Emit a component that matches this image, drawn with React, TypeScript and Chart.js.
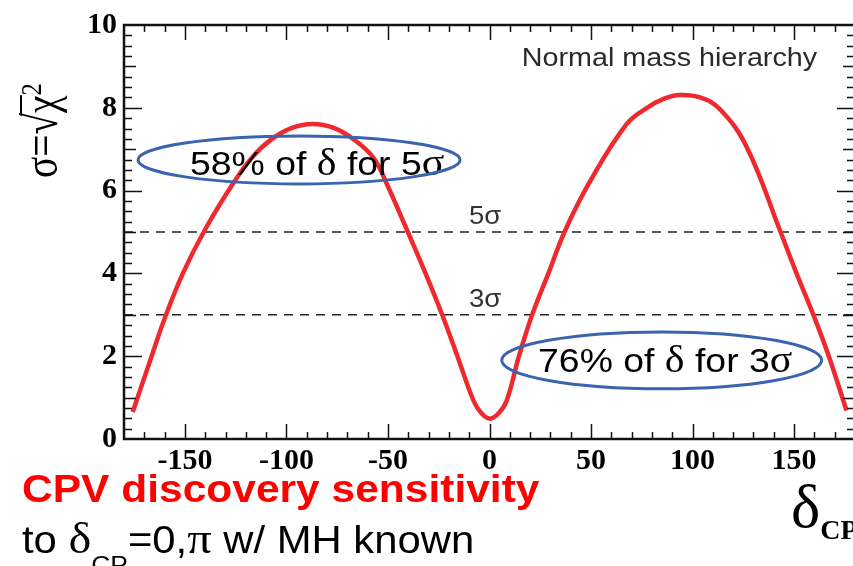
import React, { useEffect, useRef } from "react";
import { Chart, registerables } from "chart.js";

Chart.register(...registerables);

// ---- data ----
const deltaCP = [
  -175.7, -166.4, -159.3, -151.0, -140.4, -126.7, -117.1, -107.6, -97.0, -87.1, -77.0, -66.7, -57.1, -50.4,
  -40.5, -31.5, -23.3, -15.8, -7.9, -4.0, 0.3, 4.5, 8.5, 14.5, 21.0, 29.0,
  37.2, 49.5, 67.6, 77.6, 86.0, 93.7, 103.7, 113.4, 126.6, 143.1, 151.2,
  159.5, 167.1, 175.8,
];
const sigma = [
  0.65, 2.0, 3.0, 4.0, 5.03, 6.14, 6.79, 7.23, 7.52, 7.61, 7.52, 7.23, 6.79, 6.14,
  5.03, 4.0, 3.0, 2.0, 0.93, 0.62, 0.49, 0.62, 0.93, 2.0, 3.0, 4.0,
  5.03, 6.22, 7.61, 8.0, 8.22, 8.31, 8.25, 7.97, 7.06, 5.03, 4.0,
  3.0, 2.0, 0.69,
];
const xTickValues = [-150, -100, -50, 0, 50, 100, 150];
const yTickValues = [0, 2, 4, 6, 8, 10];
const sigmaLevels = [5, 3];
const sigmaLevelLabels = ["5σ", "3σ"];

const X_MIN = -180;
const X_MAX = 180;
const Y_MIN = 0;
const Y_MAX = 10;

// annotations (data coordinates)
const ellipses = [
  { cx: -93.8, cy: 6.74, rx: 79.3, ry: 0.578, text: ["58% of ", "δ", " for 5", "σ"], tx: -147.5, ty: 6.38 },
  { cx: 84.8, cy: 1.9, rx: 78.8, ry: 0.687, text: ["76% of ", "δ", " for 3", "σ"], tx: 23.9, ty: 1.61 },
];

const SANS = '"Liberation Sans", Arial, sans-serif';
const SERIF = '"Liberation Serif", "Times New Roman", serif';

function drawRuns(ctx: CanvasRenderingContext2D, runs: [string, string][], x: number, y: number, sx: number, color: string) {
  ctx.save();
  ctx.translate(x, y);
  ctx.scale(sx, 1);
  ctx.fillStyle = color;
  ctx.textBaseline = "alphabetic";
  ctx.textAlign = "left";
  let cx = 0;
  for (const [t, f] of runs) {
    ctx.font = f;
    ctx.fillText(t, cx, 0);
    cx += ctx.measureText(t).width;
  }
  ctx.restore();
}

const framePlugin = {
  id: "rootFrame",
  afterDatasetsDraw(chart: any) {
    const { ctx, chartArea: a, scales } = chart;
    const xs = scales.x;
    const ys = scales.y;
    ctx.save();
    ctx.strokeStyle = "#111";
    ctx.lineWidth = 1.5;
    ctx.beginPath();
    for (let v = -170; v <= 170; v += 10) {
      const px = Math.round(xs.getPixelForValue(v)) + 0.5;
      const len = v % 50 === 0 ? 15 : 7;
      ctx.moveTo(px, a.bottom);
      ctx.lineTo(px, a.bottom - len);
      ctx.moveTo(px, a.top);
      ctx.lineTo(px, a.top + len);
    }
    for (let k = 1; k < 40; k++) {
      const v = k * 0.25;
      const py = Math.round(ys.getPixelForValue(v)) + 0.5;
      const len = v % 2 === 0 ? 18 : v % 1 === 0 ? 12 : 8;
      ctx.moveTo(a.left, py);
      ctx.lineTo(a.left + len, py);
      ctx.moveTo(a.right, py);
      ctx.lineTo(a.right - len, py);
    }
    ctx.stroke();
    ctx.lineWidth = 2.5;
    ctx.strokeRect(a.left, a.top, a.right - a.left, a.bottom - a.top);
    ctx.restore();
  },
};

const annotationPlugin = {
  id: "annotations",
  afterDraw(chart: any) {
    const { ctx, scales } = chart;
    const xs = scales.x;
    const ys = scales.y;
    sigmaLevels.forEach((lv, i) => {
      const px = xs.getPixelForValue(-10.1);
      const py = ys.getPixelForValue(lv + 0.19);
      drawRuns(ctx, [[sigmaLevelLabels[i], `26px ${SANS}`]], px, py, 1.06, "#333");
    });
    drawRuns(ctx, [["Normal mass hierarchy", `26px ${SANS}`]], xs.getPixelForValue(15.9), ys.getPixelForValue(9.0), 1.105, "#2a2a2a");
    for (const e of ellipses) {
      const cx = xs.getPixelForValue(e.cx);
      const cy = ys.getPixelForValue(e.cy);
      const rx = Math.abs(xs.getPixelForValue(e.cx + e.rx) - cx);
      const ry = Math.abs(ys.getPixelForValue(e.cy + e.ry) - cy);
      const runs: [string, string][] = [
        [e.text[0], `34px ${SANS}`],
        [e.text[1], `38px ${SERIF}`],
        [e.text[2], `34px ${SANS}`],
        [e.text[3], `38px ${SERIF}`],
      ];
      drawRuns(ctx, runs, xs.getPixelForValue(e.tx), ys.getPixelForValue(e.ty), 1.1, "#000");
      ctx.save();
      ctx.strokeStyle = "#3a63b0";
      ctx.lineWidth = 3;
      ctx.beginPath();
      ctx.ellipse(cx, cy, rx, ry, 0, 0, Math.PI * 2);
      ctx.stroke();
      ctx.restore();
    }
  },
};

export default function App() {
  const canvasRef = useRef<HTMLCanvasElement | null>(null);

  useEffect(() => {
    const canvas = canvasRef.current;
    if (!canvas) return;
    const curve = deltaCP.map((d, i) => ({ x: d, y: sigma[i] }));
    const levelSets = sigmaLevels.map((lv) => ({
      data: [
        { x: X_MIN, y: lv },
        { x: X_MAX, y: lv },
      ],
      borderColor: "#222",
      borderWidth: 1.5,
      borderDash: [9, 7],
      pointRadius: 0,
      fill: false,
      tension: 0,
    }));
    const chart = new Chart(canvas, {
      type: "line",
      data: {
        datasets: [
          {
            data: curve,
            borderColor: "#ee2a2e",
            borderWidth: 4.5,
            pointRadius: 0,
            fill: false,
            tension: 0.4,
            borderCapStyle: "butt",
          } as any,
          ...levelSets,
        ],
      },
      options: {
        responsive: false,
        animation: false,
        layout: { padding: { left: 0, right: 25, top: 20, bottom: 0 } },
        plugins: { legend: { display: false }, tooltip: { enabled: false } },
        scales: {
          x: {
            type: "linear",
            min: X_MIN,
            max: X_MAX,
            afterBuildTicks: (s: any) => {
              s.ticks = xTickValues.map((v) => ({ value: v }));
            },
            afterFit: (s: any) => {
              s.height = 127;
            },
            grid: { display: false, drawTicks: false },
            border: { display: false },
            ticks: {
              color: "#000",
              padding: 4,
              maxRotation: 0,
              autoSkip: false,
              font: { family: SERIF, weight: "bold", size: 30 },
              callback: (v: any) => String(v),
            },
          },
          y: {
            type: "linear",
            min: Y_MIN,
            max: Y_MAX,
            afterBuildTicks: (s: any) => {
              s.ticks = yTickValues.map((v) => ({ value: v }));
            },
            afterFit: (s: any) => {
              s.width = 124;
            },
            grid: { display: false, drawTicks: false },
            border: { display: false },
            ticks: {
              color: "#000",
              padding: 7,
              autoSkip: false,
              font: { family: SERIF, weight: "bold", size: 30 },
              callback: (v: any) => String(v),
            },
          },
        },
      } as any,
      plugins: [framePlugin, annotationPlugin],
    });
    return () => chart.destroy();
  }, []);

  return (
    <div
      style={{
        position: "absolute",
        left: 0,
        top: 0,
        width: 853,
        height: 566,
        overflow: "hidden",
        background: "#fff",
      }}
    >
      <canvas ref={canvasRef} width={880} height={566} style={{ position: "absolute", left: 0, top: 0 }} />
      {/* y-axis title */}
      <div
        style={{
          position: "absolute",
          left: 0,
          top: 0,
          fontFamily: SERIF,
          fontSize: 48,
          lineHeight: "48px",
          whiteSpace: "nowrap",
          transformOrigin: "left top",
          transform: "translate(7px, 178px) rotate(-90deg) scaleX(0.82)",
          color: "#000",
        }}
      >
        σ=√<span style={{ position: "relative" }}>
          χ
          <span
            style={{
              position: "absolute",
              left: -3,
              right: 0,
              top: 6,
              borderTop: "2px solid #000",
            }}
          />
        </span>
        <sup style={{ fontSize: 30, verticalAlign: "16px" }}>2</sup>
      </div>
      {/* x-axis title */}
      <div
        style={{
          position: "absolute",
          left: 791,
          top: 470,
          fontFamily: SERIF,
          fontSize: 62,
          lineHeight: "72px",
          whiteSpace: "nowrap",
          color: "#000",
        }}
      >
        δ<span style={{ fontSize: 28, fontWeight: "bold", position: "relative", top: 12 }}>CP</span>
      </div>
      {/* bottom texts */}
      <div
        style={{
          position: "absolute",
          left: 22,
          top: 466,
          fontFamily: SANS,
          fontWeight: "bold",
          fontSize: 39,
          lineHeight: "46px",
          color: "#ff0000",
          whiteSpace: "nowrap",
          transformOrigin: "left top",
          transform: "scaleX(1.09)",
        }}
      >
        CPV discovery sensitivity
      </div>
      <div
        style={{
          position: "absolute",
          left: 22,
          top: 516,
          fontFamily: SANS,
          fontSize: 38,
          lineHeight: "46px",
          color: "#000",
          whiteSpace: "nowrap",
          transformOrigin: "left top",
          transform: "scaleX(1.1)",
        }}
      >
        to <span style={{ fontFamily: SERIF, fontSize: 44 }}>δ</span>
        <span style={{ fontSize: 24, position: "relative", top: 20 }}>CP</span>=0,
        <span style={{ fontFamily: SERIF, fontSize: 44 }}>π</span> w/ MH known
      </div>
    </div>
  );
}
